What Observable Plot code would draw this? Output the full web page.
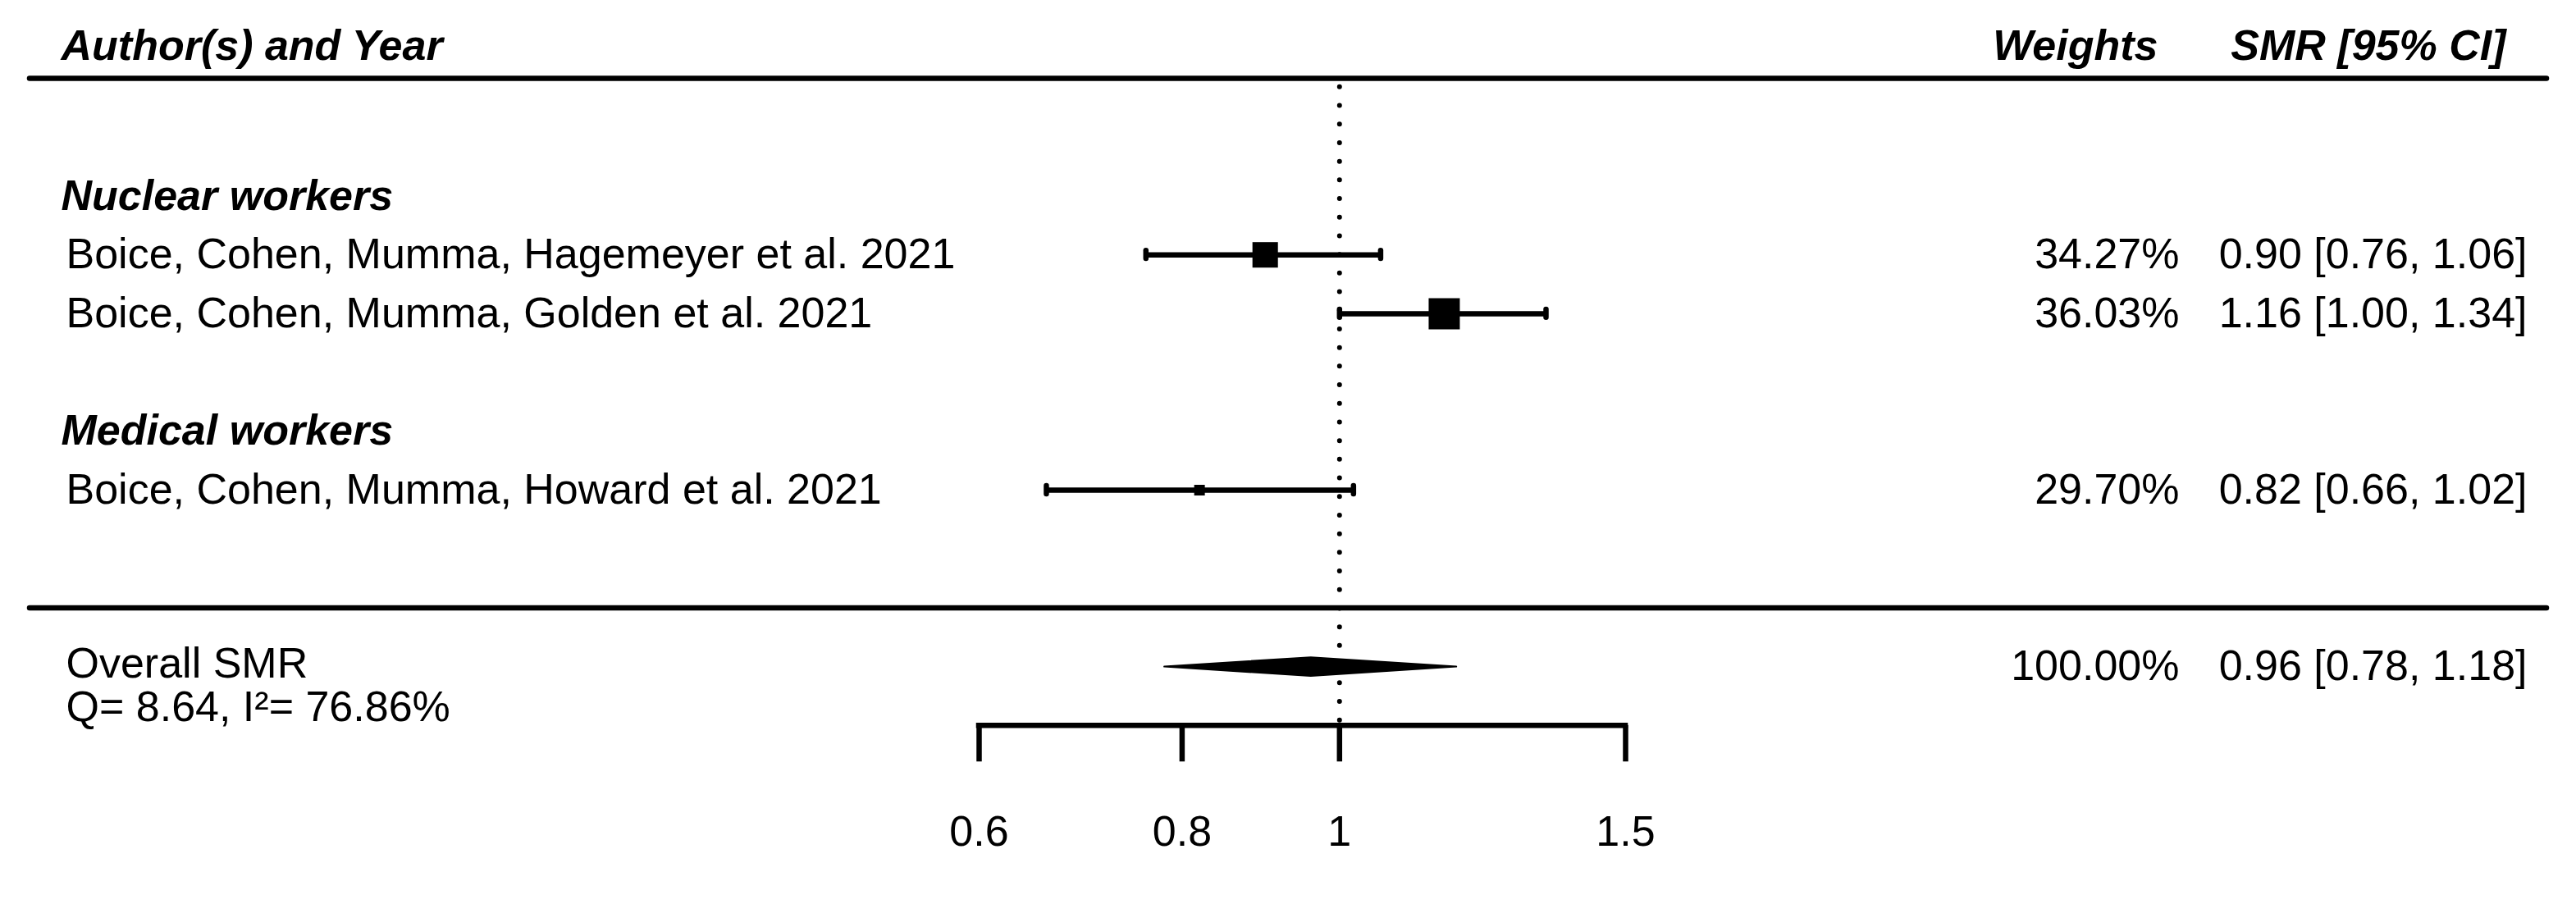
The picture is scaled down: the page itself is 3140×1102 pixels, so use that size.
<!DOCTYPE html>
<html>
<head>
<meta charset="utf-8">
<script src="https://cdn.jsdelivr.net/npm/d3@7"></script>
<script src="https://cdn.jsdelivr.net/npm/@observablehq/plot@0.6"></script>
<style>
  html, body { margin: 0; padding: 0; background: #fff; }
  #chart svg { display: block; }
</style>
</head>
<body>
<div id="chart"></div>
<script>
// ---- data ----
const studies = [
  "Boice, Cohen, Mumma, Hagemeyer et al. 2021",
  "Boice, Cohen, Mumma, Golden et al. 2021",
  "Boice, Cohen, Mumma, Howard et al. 2021"
];
const studyGroups = ["Nuclear workers", "Nuclear workers", "Medical workers"];
const groupNames = ["Nuclear workers", "Medical workers"];
const smr = [0.90, 1.16, 0.82];
const lower = [0.76, 1.00, 0.66];
const upper = [1.06, 1.34, 1.02];
const weights = [34.27, 36.03, 29.70];

const overallLabel = "Overall SMR";
const overallSmr = 0.96;
const overallLower = 0.78;
const overallUpper = 1.18;
const overallWeight = 100.00;
const heterQ = 8.64;
const heterI2 = 76.86;

const xTicks = [0.6, 0.8, 1, 1.5];
const headerLeft = "Author(s) and Year";
const headerWeights = "Weights";
const headerCI = "SMR [95% CI]";

// ---- layout rows (metafor style: overall at -1, separator at 0) ----
const rowsStudy = [];
const rowsGroup = [];
{
  let r = 2; // bottom-most study row
  for (let g = groupNames.length - 1; g >= 0; g--) {
    const idx = studies.map((s, i) => i).filter(i => studyGroups[i] === groupNames[g]);
    for (let k = idx.length - 1; k >= 0; k--) { rowsStudy[idx[k]] = r; r++; }
    rowsGroup[g] = r; r++;
    r++; // blank row
  }
}
const topRow = d3.max(rowsGroup) + 2;
const headerRow = topRow + 0.55;
const overallRow = -1;
const axisRow = -2;

const table = studies.map((s, i) => ({
  study: s, smr: smr[i], lower: lower[i], upper: upper[i], weight: weights[i], row: rowsStudy[i]
}));
const groupTable = groupNames.map((g, i) => ({label: g, row: rowsGroup[i]}));
const fmt = v => v.toFixed(2);
const ciText = (e, l, u) => `${fmt(e)} [${fmt(l)}, ${fmt(u)}]`;

const h = 0.16;
const diamond = [
  {x: overallLower, y: overallRow},
  {x: overallSmr, y: overallRow + h},
  {x: overallUpper, y: overallRow},
  {x: overallSmr, y: overallRow - h},
  {x: overallLower, y: overallRow}
];

const FS = 52;
const SW = 6.5;
const font = "'Liberation Sans', Arial, Helvetica, sans-serif";

const chart = Plot.plot({
  width: 3140,
  height: 1102,
  marginLeft: 36,
  marginRight: 36,
  marginTop: 0,
  marginBottom: 0,
  style: {fontFamily: font, background: "white", color: "black"},
  x: {type: "log", domain: [xTicks[0], xTicks[xTicks.length - 1]], range: [1193, 1981], axis: null},
  y: {domain: [topRow, overallRow], range: [95.1, 812.1], axis: null},
  r: {type: "linear", domain: [d3.min(weights), d3.max(weights)], range: [7.33, 21.44]},
  marks: [
    // header & separator lines
    Plot.ruleY([topRow, 0], {y: d => d, stroke: "black", strokeWidth: SW, strokeLinecap: "round"}),
    // reference line at 1
    Plot.ruleX([1], {x: d => d, y1: () => topRow - 0.15, y2: () => axisRow, stroke: "black",
      strokeWidth: 6, strokeDasharray: "0 22.7", strokeLinecap: "round"}),
    // CIs
    Plot.ruleY(table, {y: "row", x1: "lower", x2: "upper", stroke: "black", strokeWidth: SW}),
    Plot.ruleX(table, {x: "lower", y1: d => d.row + 0.068, y2: d => d.row - 0.068, stroke: "black", strokeWidth: SW, strokeLinecap: "round"}),
    Plot.ruleX(table, {x: "upper", y1: d => d.row + 0.068, y2: d => d.row - 0.068, stroke: "black", strokeWidth: SW, strokeLinecap: "round"}),
    // squares
    Plot.dot(table, {x: "smr", y: "row", r: "weight", symbol: "square", fill: "black", stroke: null}),
    // summary diamond
    Plot.line(diamond, {x: "x", y: "y", fill: "black", stroke: "black", strokeWidth: 2}),
    // x axis
    Plot.ruleY([axisRow], {y: d => d, x1: () => xTicks[0], x2: () => xTicks[xTicks.length - 1], stroke: "black", strokeWidth: SW, strokeLinecap: "square"}),
    Plot.ruleX(xTicks, {x: d => d, y1: () => axisRow, y2: () => axisRow - 0.62, stroke: "black", strokeWidth: SW}),
    Plot.text(xTicks, {x: d => d, y: () => axisRow - 1.82, text: d => String(d), fontSize: FS, fill: "black"}),
    // headers
    Plot.text([headerLeft], {frameAnchor: "left", dx: 38, y: () => headerRow, text: d => d, textAnchor: "start",
      fontSize: FS, fontWeight: "bold", fontStyle: "italic", fill: "black"}),
    Plot.text([headerWeights], {frameAnchor: "right", dx: -474, y: () => headerRow, text: d => d, textAnchor: "end",
      fontSize: FS, fontWeight: "bold", fontStyle: "italic", fill: "black"}),
    Plot.text([headerCI], {frameAnchor: "right", dx: -50, y: () => headerRow, text: d => d, textAnchor: "end",
      fontSize: FS, fontWeight: "bold", fontStyle: "italic", fill: "black"}),
    // group labels
    Plot.text(groupTable, {frameAnchor: "left", dx: 38, y: "row", text: "label", textAnchor: "start",
      fontSize: FS, fontWeight: "bold", fontStyle: "italic", fill: "black"}),
    // study labels
    Plot.text(table, {frameAnchor: "left", dx: 44, y: "row", text: "study", textAnchor: "start", fontSize: FS, fill: "black"}),
    Plot.text(table, {frameAnchor: "right", dx: -448, y: "row", text: d => fmt(d.weight) + "%", textAnchor: "end", fontSize: FS, fill: "black"}),
    Plot.text(table, {frameAnchor: "right", dx: -24, y: "row", text: d => ciText(d.smr, d.lower, d.upper), textAnchor: "end", fontSize: FS, fill: "black"}),
    // overall
    Plot.text([overallLabel], {frameAnchor: "left", dx: 44, y: () => overallRow + 0.05, text: d => d, textAnchor: "start", fontSize: FS, fill: "black"}),
    Plot.text([`Q= ${fmt(heterQ)}, I\u00B2= ${fmt(heterI2)}%`], {frameAnchor: "left", dx: 44, y: () => overallRow - 0.7, text: d => d, textAnchor: "start", fontSize: FS, fill: "black"}),
    Plot.text([overallWeight], {frameAnchor: "right", dx: -448, y: () => overallRow, text: d => fmt(d) + "%", textAnchor: "end", fontSize: FS, fill: "black"}),
    Plot.text([0], {frameAnchor: "right", dx: -24, y: () => overallRow, text: () => ciText(overallSmr, overallLower, overallUpper), textAnchor: "end", fontSize: FS, fill: "black"})
  ]
});
document.getElementById("chart").appendChild(chart);
</script>
</body>
</html>
